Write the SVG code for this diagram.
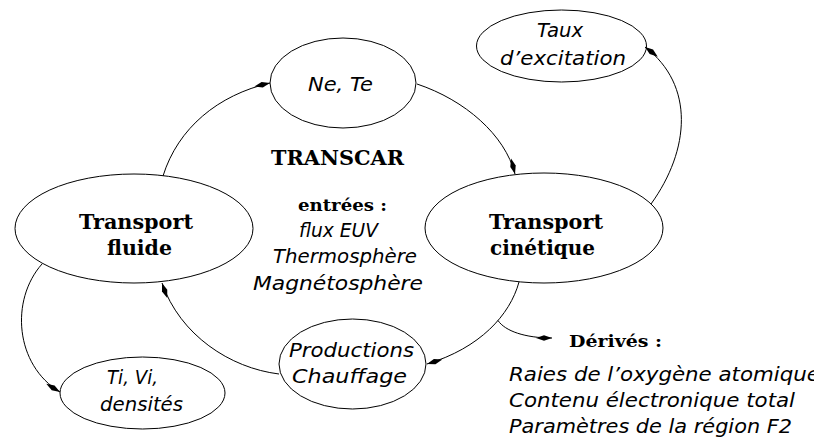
<svg xmlns="http://www.w3.org/2000/svg" width="814" height="443" viewBox="0 0 814 443">
<style>
.node ellipse{fill:#fff;stroke:#000;stroke-width:1}
.conn path{fill:none;stroke:#000;stroke-width:1;marker-end:url(#ah)}
.conn path.plain{marker-end:none}
.it{font-family:"DejaVu Sans","Liberation Sans",sans-serif;font-style:italic;font-size:20px;fill:#000}
.bf{font-family:"DejaVu Serif","Liberation Serif",serif;font-weight:bold;font-size:20px;fill:#000}
.bs{font-size:17px}
</style>
<defs>
<marker id="ah" markerUnits="userSpaceOnUse" markerWidth="20" markerHeight="10" viewBox="-17 -5 20 10" refX="0" refY="0" orient="auto">
<path d="M0,0 L-8,-2.8 L-16,0 L-8,2.8 Z" fill="#000"/>
</marker>
</defs>
<rect width="814" height="443" fill="#fff"/>

<g id="nete" class="node">
<ellipse cx="343" cy="83" rx="73" ry="45"/>
<text class="it" x="308" y="91" textLength="65" lengthAdjust="spacingAndGlyphs">Ne, Te</text>
</g>
<g id="taux" class="node">
<ellipse cx="561.5" cy="46" rx="85" ry="36"/>
<text class="it" x="537" y="37" textLength="46" lengthAdjust="spacingAndGlyphs">Taux</text>
<text class="it" x="500" y="65" textLength="126" lengthAdjust="spacingAndGlyphs">d’excitation</text>
</g>
<g id="fluide" class="node">
<ellipse cx="134" cy="228.5" rx="119" ry="54.5"/>
<text class="bf" x="79" y="229" textLength="114" lengthAdjust="spacingAndGlyphs">Transport</text>
<text class="bf" x="107" y="255" textLength="65" lengthAdjust="spacingAndGlyphs">fluide</text>
</g>
<g id="cinetique" class="node">
<ellipse cx="544" cy="228" rx="119" ry="55"/>
<text class="bf" x="489" y="229" textLength="114" lengthAdjust="spacingAndGlyphs">Transport</text>
<text class="bf" x="490" y="255" textLength="105" lengthAdjust="spacingAndGlyphs">cinétique</text>
</g>
<g id="productions" class="node">
<ellipse cx="352.5" cy="364" rx="73.5" ry="45"/>
<text class="it" x="289" y="357" textLength="125" lengthAdjust="spacingAndGlyphs">Productions</text>
<text class="it" x="292" y="383" textLength="115" lengthAdjust="spacingAndGlyphs">Chauffage</text>
</g>
<g id="tivi" class="node">
<ellipse cx="142.5" cy="393" rx="82.5" ry="36"/>
<text class="it" x="107" y="384" textLength="51" lengthAdjust="spacingAndGlyphs">Ti, Vi,</text>
<text class="it" x="100" y="411" textLength="83" lengthAdjust="spacingAndGlyphs">densités</text>
</g>
<g id="transcar">
<text class="bf" x="271" y="165" textLength="133" lengthAdjust="spacingAndGlyphs">TRANSCAR</text>
<text class="bf bs" x="298" y="211" textLength="89" lengthAdjust="spacingAndGlyphs">entrées :</text>
<text class="it" x="299" y="237" textLength="79" lengthAdjust="spacingAndGlyphs">flux EUV</text>
<text class="it" x="273" y="263" textLength="144" lengthAdjust="spacingAndGlyphs">Thermosphère</text>
<text class="it" x="253" y="290" textLength="170" lengthAdjust="spacingAndGlyphs">Magnétosphère</text>
</g>
<g id="derives">
<text class="bf bs" x="569" y="347" textLength="93" lengthAdjust="spacingAndGlyphs">Dérivés :</text>
<text class="it" x="509" y="381" textLength="311" lengthAdjust="spacingAndGlyphs">Raies de l’oxygène atomique</text>
<text class="it" x="509" y="407" textLength="286" lengthAdjust="spacingAndGlyphs">Contenu électronique total</text>
<text class="it" x="509" y="433" textLength="283" lengthAdjust="spacingAndGlyphs">Paramètres de la région F2</text>
</g>

<g id="connectors" class="conn">
<path d="M163,176 C178,128 218,95 270,83"/>
<path d="M417,84 C465,100 505,135 515,174"/>
<path d="M651,204 C690,150 695,85 645,47"/>
<path d="M519,282 C510,315 480,348 427,364"/>
<path d="M498,320.5 C505,331 525,338 552,338"/>
<path d="M279,374 C230,368 180,335 162,283"/>
<path d="M42,264 C10,300 15,365 60,392"/>
</g>
</svg>
